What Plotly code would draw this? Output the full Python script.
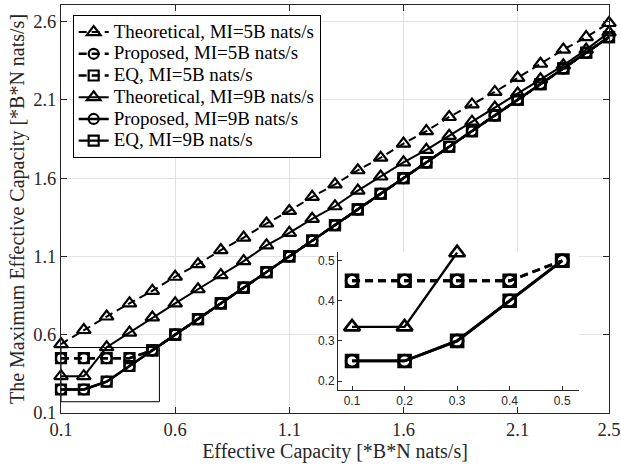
import plotly.graph_objects as go

# Effective capacity grid (x) in units of B*N nats/s
eff_capacity = [0.1, 0.2, 0.3, 0.4, 0.5, 0.6, 0.7, 0.8, 0.9, 1.0,
                1.1, 1.2, 1.3, 1.4, 1.5, 1.6, 1.7, 1.8, 1.9, 2.0,
                2.1, 2.2, 2.3, 2.4, 2.5]

# Maximum effective capacity for each scheme
theoretical_5b = [0.54, 0.63, 0.716, 0.80, 0.88, 0.97, 1.05, 1.14, 1.22, 1.31,
                  1.39, 1.48, 1.56, 1.65, 1.73, 1.82, 1.90, 1.99, 2.07, 2.15,
                  2.24, 2.33, 2.42, 2.50, 2.59]
proposed_5b = [0.45, 0.45, 0.45, 0.45, 0.5, 0.6, 0.7, 0.8, 0.9, 1.0,
               1.1, 1.2, 1.3, 1.4, 1.5, 1.6, 1.7, 1.8, 1.9, 2.0,
               2.1, 2.2, 2.3, 2.4, 2.5]
eq_5b = [0.45, 0.45, 0.45, 0.45, 0.5, 0.6, 0.7, 0.8, 0.9, 1.0,
         1.1, 1.2, 1.3, 1.4, 1.5, 1.6, 1.7, 1.8, 1.9, 2.0,
         2.1, 2.2, 2.3, 2.4, 2.5]
theoretical_9b = [0.335, 0.335, 0.52, 0.613, 0.71, 0.80, 0.89, 0.98, 1.07, 1.17,
                  1.25, 1.34, 1.42, 1.52, 1.61, 1.70, 1.78, 1.87, 1.96, 2.05,
                  2.14, 2.23, 2.32, 2.42, 2.53]
proposed_9b = [0.25, 0.25, 0.30, 0.40, 0.5, 0.6, 0.7, 0.8, 0.9, 1.0,
               1.1, 1.2, 1.3, 1.4, 1.5, 1.6, 1.7, 1.8, 1.9, 2.0,
               2.1, 2.2, 2.3, 2.4, 2.5]
eq_9b = [0.25, 0.25, 0.30, 0.40, 0.5, 0.6, 0.7, 0.8, 0.9, 1.0,
         1.1, 1.2, 1.3, 1.4, 1.5, 1.6, 1.7, 1.8, 1.9, 2.0,
         2.1, 2.2, 2.3, 2.4, 2.5]

series_names = ["Theoretical, MI=5B nats/s", "Proposed, MI=5B nats/s", "EQ, MI=5B nats/s",
                "Theoretical, MI=9B nats/s", "Proposed, MI=9B nats/s", "EQ, MI=9B nats/s"]

main_xticks = [0.1, 0.6, 1.1, 1.6, 2.1, 2.5]
main_yticks = [0.1, 0.6, 1.1, 1.6, 2.1, 2.6]
inset_xticks = [0.1, 0.2, 0.3, 0.4, 0.5]
inset_yticks = [0.2, 0.3, 0.4, 0.5]

INSET_X = (0.0733, 0.532)
INSET_Y = (0.1776, 0.5224)

series_values = [theoretical_5b, proposed_5b, eq_5b, theoretical_9b, proposed_9b, eq_9b]
DASHED = "8px,5px"
styles = [
    dict(symbol="triangle-up-open", size=12, dash=DASHED, width=2.0),
    dict(symbol="circle-open", size=10, dash=DASHED, width=2.4),
    dict(symbol="square-open", size=10, dash=DASHED, width=2.4),
    dict(symbol="triangle-up-open", size=12, dash="solid", width=2.0),
    dict(symbol="circle-open", size=10, dash="solid", width=2.4),
    dict(symbol="square-open", size=10, dash="solid", width=2.4),
]

axis_color = "#262626"
serif = "Liberation Serif"
LEGEND_TEXT_PX = 19

fig = go.Figure()

# Main axes
for name, vals, st in zip(series_names, series_values, styles):
    fig.add_trace(go.Scatter(
        x=eff_capacity, y=vals,
        name=f'<span style="font-size:{LEGEND_TEXT_PX}px">{name}</span>',
        mode="lines+markers",
        line=dict(color="black", width=st["width"], dash=st["dash"]),
        marker=dict(symbol=st["symbol"], size=st["size"], color="black",
                    line=dict(color="black", width=2.2)),
        cliponaxis=False, xaxis="x", yaxis="y",
    ))

# Zoomed inset of the low-capacity region
for name, vals, st in zip(series_names, series_values, styles):
    pts = [(x, y) for x, y in zip(eff_capacity, vals)
           if x <= INSET_X[1] and INSET_Y[0] <= y <= INSET_Y[1]]
    if not pts:
        continue
    xs, ys = zip(*pts)
    fig.add_trace(go.Scatter(
        x=list(xs), y=list(ys), name=name, mode="lines+markers", showlegend=False,
        line=dict(color="black", width=st["width"] + 0.4, dash=st["dash"]),
        marker=dict(symbol=st["symbol"], size=st["size"] + 2, color="black",
                    line=dict(color="black", width=2.6)),
        cliponaxis=False, xaxis="x2", yaxis="y2",
    ))

fig.update_layout(
    width=621, height=470,
    margin=dict(l=61, r=12, t=5, b=57),
    paper_bgcolor="white", plot_bgcolor="white",
    showlegend=True,
    legend=dict(
        x=0.0213, y=0.975, xanchor="left", yanchor="top",
        bgcolor="white", bordercolor="black", borderwidth=1,
        font=dict(family=serif, size=14.4, color="black"),
        tracegroupgap=0,
    ),
    xaxis=dict(
        range=[0.1, 2.5], tickvals=main_xticks, ticktext=[f"{v:g}" for v in main_xticks],
        ticks="inside", ticklen=6, tickcolor=axis_color, mirror="ticks",
        showline=True, linecolor=axis_color, linewidth=1,
        showgrid=True, gridcolor="#e2e2e2", gridwidth=1, zeroline=False,
        tickfont=dict(family=serif, size=18.5, color=axis_color),
        title=dict(text="Effective Capacity [*B*N nats/s]", standoff=4,
                   font=dict(family=serif, size=20, color=axis_color)),
        automargin=False,
    ),
    yaxis=dict(
        range=[0.1, 2.705], tickvals=main_yticks, ticktext=[f"{v:g}" for v in main_yticks],
        ticks="inside", ticklen=6, tickcolor=axis_color, mirror="ticks",
        showline=True, linecolor=axis_color, linewidth=1,
        showgrid=True, gridcolor="#e2e2e2", gridwidth=1, zeroline=False,
        tickfont=dict(family=serif, size=18.5, color=axis_color),
        title=dict(text="The Maximum Effective Capacity [*B*N nats/s]", standoff=3,
                   font=dict(family=serif, size=20, color=axis_color)),
        automargin=False,
    ),
    xaxis2=dict(
        domain=[0.5055, 0.9453], anchor="y2", range=list(INSET_X),
        tickvals=inset_xticks, ticktext=[f"{v:g}" for v in inset_xticks],
        ticks="inside", ticklen=4, tickcolor=axis_color,
        showline=True, linecolor=axis_color, linewidth=1, mirror=False,
        showgrid=False, zeroline=False,
        tickfont=dict(family="Liberation Sans", size=12, color=axis_color),
    ),
    yaxis2=dict(
        domain=[0.0564, 0.3953], anchor="x2", range=list(INSET_Y),
        tickvals=inset_yticks, ticktext=[f"{v:g}" for v in inset_yticks],
        ticks="inside", ticklen=4, tickcolor=axis_color,
        showline=True, linecolor=axis_color, linewidth=1, mirror=False,
        showgrid=False, zeroline=False,
        tickfont=dict(family="Liberation Sans", size=12, color=axis_color),
    ),
    shapes=[
        # box marking the zoomed region
        dict(type="rect", xref="x", yref="y", x0=0.1, x1=0.531, y0=0.172, y1=0.518,
             line=dict(color="black", width=1), fillcolor="rgba(0,0,0,0)", layer="above"),
        # blank band under the inset tick labels
        dict(type="rect", xref="x", yref="y", x0=1.315, x1=2.372, y0=0.13, y1=0.3,
             line=dict(width=0), fillcolor="white", layer="between"),
    ],
)

fig.write_html("out.html")
